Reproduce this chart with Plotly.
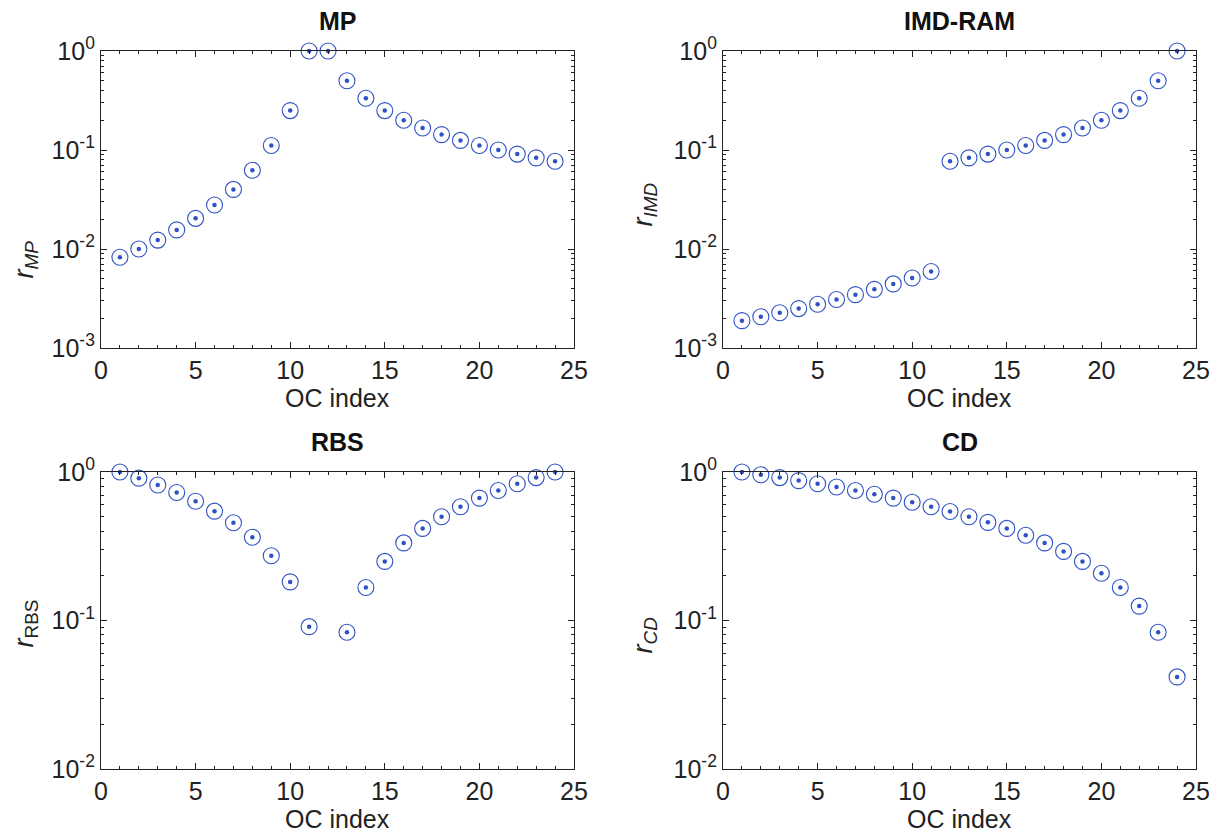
import plotly.graph_objects as go

# ---------------- data ----------------
oc_index = list(range(1, 25))

r_mp = [0.00826, 0.0100, 0.0123, 0.0156, 0.0204, 0.0278, 0.0400, 0.0625,
        0.111, 0.250, 1.0, 1.0, 0.500, 0.333, 0.250, 0.200, 0.167, 0.143,
        0.125, 0.111, 0.100, 0.0909, 0.0833, 0.0769]

r_imd = [0.00189, 0.00207, 0.00227, 0.00250, 0.00277, 0.00309, 0.00346,
         0.00391, 0.00444, 0.00510, 0.00592, 0.0769, 0.0833, 0.0909, 0.100,
         0.111, 0.125, 0.143, 0.167, 0.200, 0.250, 0.333, 0.500, 1.0]

r_rbs = [1.0, 0.909, 0.818, 0.727, 0.636, 0.545, 0.455, 0.364, 0.273, 0.182,
         0.0909, None, 0.0833, 0.167, 0.250, 0.333, 0.417, 0.500, 0.583,
         0.667, 0.750, 0.833, 0.917, 1.0]

r_cd = [1.0, 0.958, 0.917, 0.875, 0.833, 0.792, 0.750, 0.708, 0.667, 0.625,
        0.583, 0.542, 0.500, 0.458, 0.417, 0.375, 0.333, 0.292, 0.250, 0.208,
        0.167, 0.125, 0.0833, 0.0417]

panel_titles = ["MP", "IMD-RAM", "RBS", "CD"]
y_labels = ["<i>r</i><sub><i>MP</i></sub>", "<i>r</i><sub><i>IMD</i></sub>",
            "<i>r</i><sub>RBS</sub>", "<i>r</i><sub><i>CD</i></sub>"]
x_label = "OC index"
x_ticks = [0, 5, 10, 15, 20, 25]
y_tick_top = [0.001, 0.01, 0.1, 1]
y_text_top = ["10<sup>-3</sup>", "10<sup>-2</sup>", "10<sup>-1</sup>", "10<sup>0</sup>"]
y_tick_bot = [0.01, 0.1, 1]
y_text_bot = ["10<sup>-2</sup>", "10<sup>-1</sup>", "10<sup>0</sup>"]

# ---------------- layout geometry ----------------
PAGE_W, PAGE_H = 1223, 834
OFF = 8                      # default page margin in front of the figure
W, H = PAGE_W - OFF, PAGE_H - OFF
FONT = "Liberation Sans, Arial, Helvetica, sans-serif"
BLUE = "#2f52c4"
INK = "#222222"

col_px = [(101, 574), (723, 1196)]
row_px = [(51, 348), (472, 769)]

def px2x(p):
    return (p - OFF) / W

def px2y(p):
    return 1 - (p - OFF) / H

fig = go.Figure()

series = [r_mp, r_imd, r_rbs, r_cd]
for i, ys in enumerate(series):
    ax = "" if i == 0 else str(i + 1)
    fig.add_trace(go.Scatter(
        x=oc_index, y=ys, mode="markers", xaxis="x" + ax, yaxis="y" + ax,
        marker=dict(symbol="circle-open", size=16, color=BLUE,
                    line=dict(width=1.1, color=BLUE)),
        cliponaxis=False, showlegend=False, hoverinfo="x+y"))
    fig.add_trace(go.Scatter(
        x=oc_index, y=ys, mode="markers", xaxis="x" + ax, yaxis="y" + ax,
        marker=dict(symbol="circle", size=4.5, color=BLUE),
        cliponaxis=False, showlegend=False, hoverinfo="skip"))

def minor_vals(lo, hi):
    vals = []
    for e in range(lo, hi):
        for m in range(2, 10):
            vals.append(m * 10 ** e)
    return vals

layout = {}
annotations = []
label_dy = [60, 5, 3, 15]
for i in range(4):
    r, c = divmod(i, 2)
    ax = "" if i == 0 else str(i + 1)
    x0, x1 = col_px[c]
    y0, y1 = row_px[r]
    top = r == 0
    layout["xaxis" + ax] = dict(
        domain=[px2x(x0), px2x(x1)], anchor="y" + ax, range=[0, 25],
        automargin=False,
        tickvals=x_ticks, ticks="inside", ticklen=6, tickwidth=1,
        tickcolor=INK, mirror="allticks", showline=True, linecolor=INK,
        linewidth=1.2, showgrid=False, zeroline=False,
        tickfont=dict(family=FONT, size=25, color=INK),
        minor=dict(tickvals=list(range(1, 25)), ticks="inside", ticklen=3,
                   tickcolor=INK, showgrid=False))
    layout["yaxis" + ax] = dict(
        domain=[px2y(y1), px2y(y0)], anchor="x" + ax, type="log",
        automargin=False,
        range=[-3, 0] if top else [-2, 0],
        tickvals=y_tick_top if top else y_tick_bot,
        ticktext=y_text_top if top else y_text_bot,
        ticks="inside", ticklen=6, tickwidth=1, tickcolor=INK,
        mirror="allticks", showline=True, linecolor=INK, linewidth=1.2,
        showgrid=False, zeroline=False,
        tickfont=dict(family=FONT, size=25, color=INK),
        minor=dict(tickvals=minor_vals(-3 if top else -2, 0), ticks="inside",
                   ticklen=3, tickcolor=INK, showgrid=False))
    # panel title
    annotations.append(dict(
        text="<b>%s</b>" % panel_titles[i], xref="paper", yref="paper",
        x=px2x((x0 + x1) / 2), y=px2y(y0 - 30), xanchor="center",
        yanchor="middle", showarrow=False,
        font=dict(family=FONT, size=25, color="#111")))
    # x label
    annotations.append(dict(
        text=x_label, xref="paper", yref="paper",
        x=px2x((x0 + x1) / 2), y=px2y(y1 + 50), xanchor="center",
        yanchor="middle", showarrow=False,
        font=dict(family=FONT, size=25, color=INK)))
    # y label
    lab_x = [25, 644][c]
    annotations.append(dict(
        text=y_labels[i], xref="paper", yref="paper", textangle=-90,
        x=px2x(lab_x), y=px2y((y0 + y1) / 2 + label_dy[i]),
        xanchor="center", yanchor="middle", showarrow=False,
        font=dict(family=FONT, size=27, color=INK)))

fig.update_layout(
    width=W, height=H, margin=dict(l=0, r=0, t=0, b=0),
    paper_bgcolor="white", plot_bgcolor="white",
    annotations=annotations, **layout)

fig.write_html("out.html")
